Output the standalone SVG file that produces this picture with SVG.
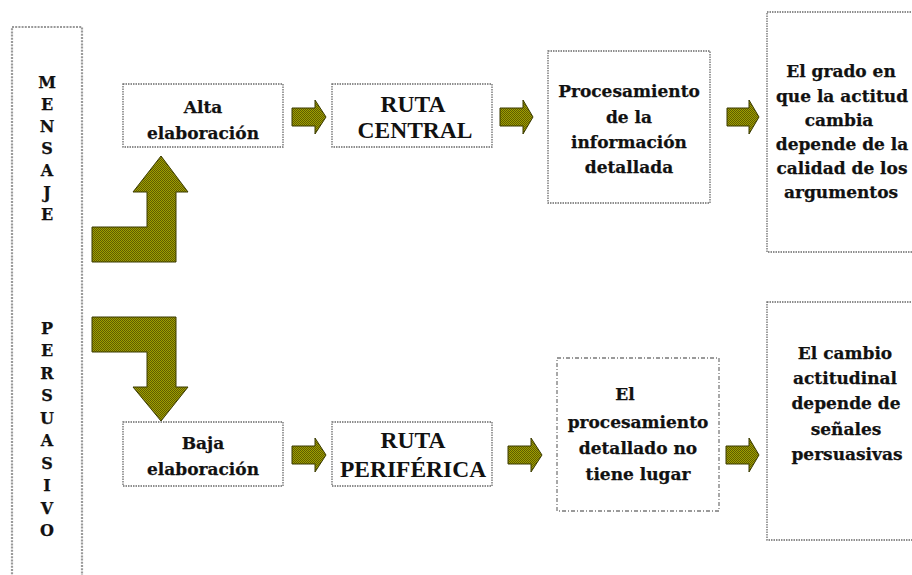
<svg xmlns="http://www.w3.org/2000/svg" width="912" height="575" viewBox="0 0 912 575">
<defs>
<pattern id="dither" width="2" height="2" patternUnits="userSpaceOnUse">
<rect width="2" height="2" fill="#a09e00"/>
<rect width="1" height="1" fill="#5e5c00"/>
<rect x="1" y="1" width="1" height="1" fill="#5e5c00"/>
</pattern>
</defs>
<style>
.box{fill:#fff;stroke:#6a6a6a;stroke-width:1.3;stroke-dasharray:1.5 1}
.big{fill:#fff;stroke:#9a9a9a;stroke-width:2.2;stroke-dasharray:2 1.2}
.dd{fill:#fff;stroke:#7a7a7a;stroke-width:1.3;stroke-dasharray:4 2 1 2}
.arr{fill:url(#dither);stroke:#3a3a00;stroke-width:1}
.t{font-family:"DejaVu Serif","Liberation Serif",serif;font-weight:bold;font-size:17px;fill:#111;stroke:#111;stroke-width:0.25;text-anchor:middle}
.r{font-family:"Liberation Serif",serif;font-weight:bold;font-size:23.5px;fill:#111;text-anchor:middle}
.v{font-family:"DejaVu Serif","Liberation Serif",serif;font-weight:bold;font-size:16px;fill:#111;stroke:#111;stroke-width:0.25;text-anchor:middle}
</style>
<rect width="912" height="575" fill="#fff"/>
<g id="mensaje-persuasivo">
<rect class="big" x="12" y="27" width="70" height="570"/>
<text class="v" x="47" y="88">M</text>
<text class="v" x="47" y="110">E</text>
<text class="v" x="47" y="132">N</text>
<text class="v" x="47" y="154">S</text>
<text class="v" x="47" y="176">A</text>
<text class="v" x="47" y="198">J</text>
<text class="v" x="47" y="220">E</text>
<text class="v" x="47" y="334">P</text>
<text class="v" x="47" y="356">E</text>
<text class="v" x="47" y="379">R</text>
<text class="v" x="47" y="401">S</text>
<text class="v" x="47" y="424">U</text>
<text class="v" x="47" y="446">A</text>
<text class="v" x="47" y="469">S</text>
<text class="v" x="47" y="491">I</text>
<text class="v" x="47" y="514">V</text>
<text class="v" x="47" y="536">O</text>
</g>
<g id="alta">
<rect class="box" x="123" y="84" width="160" height="63"/>
<text class="t" x="203" y="113">Alta</text>
<text class="t" x="203" y="139">elaboración</text>
</g>
<g id="ruta-central">
<rect class="box" x="332" y="84" width="160" height="63"/>
<text class="r" x="413" y="112">RUTA</text>
<text class="r" x="415" y="138">CENTRAL</text>
</g>
<g id="procesamiento">
<rect class="box" x="548" y="51" width="162" height="152"/>
<text class="t" x="629" y="97">Procesamiento</text>
<text class="t" x="629" y="123">de la</text>
<text class="t" x="629" y="148">información</text>
<text class="t" x="629" y="173">detallada</text>
</g>
<g id="grado">
<rect class="box" x="767" y="12" width="150" height="240"/>
<text class="t" x="841" y="77">El grado en</text>
<text class="t" x="842" y="102">que la actitud</text>
<text class="t" x="839" y="126">cambia</text>
<text class="t" x="842" y="150">depende de la</text>
<text class="t" x="842" y="174">calidad de los</text>
<text class="t" x="841" y="198">argumentos</text>
</g>
<g id="baja">
<rect class="box" x="123" y="422" width="160" height="64"/>
<text class="t" x="203" y="449">Baja</text>
<text class="t" x="203" y="475">elaboración</text>
</g>
<g id="ruta-periferica">
<rect class="box" x="332" y="422" width="160" height="64"/>
<text class="r" x="413" y="448">RUTA</text>
<text class="r" x="413" y="477">PERIFÉRICA</text>
</g>
<g id="no-procesamiento">
<rect class="dd" x="557" y="358" width="162" height="153"/>
<text class="t" x="625" y="400">El</text>
<text class="t" x="638" y="428">procesamiento</text>
<text class="t" x="638" y="454">detallado no</text>
<text class="t" x="638" y="480">tiene lugar</text>
</g>
<g id="cambio">
<rect class="box" x="767" y="302" width="150" height="238"/>
<text class="t" x="845" y="359">El cambio</text>
<text class="t" x="845" y="384">actitudinal</text>
<text class="t" x="846" y="409">depende de</text>
<text class="t" x="846" y="435">señales</text>
<text class="t" x="847" y="460">persuasivas</text>
</g>
<g id="connectors">
<polygon class="arr" points="92,227 147,227 147,192 133,192 161,156 188,192 176,192 176,262 92,262"/>
<polygon class="arr" points="92,317 176,317 176,387 188,387 161,421 133,387 147,387 147,352 92,352"/>
<polygon class="arr" points="292,108 315,108 315,100 326,117 315,134 315,126 292,126"/>
<polygon class="arr" points="500,108 523,108 523,100 533,117 523,134 523,126 500,126"/>
<polygon class="arr" points="727,108 749,108 749,100 759,117 749,134 749,126 727,126"/>
<polygon class="arr" points="292,446 315,446 315,438 326,455 315,472 315,464 292,464"/>
<polygon class="arr" points="508,446 531,446 531,438 542,455 531,472 531,464 508,464"/>
<polygon class="arr" points="726,446 749,446 749,438 759,455 749,472 749,464 726,464"/>
</g>
</svg>
